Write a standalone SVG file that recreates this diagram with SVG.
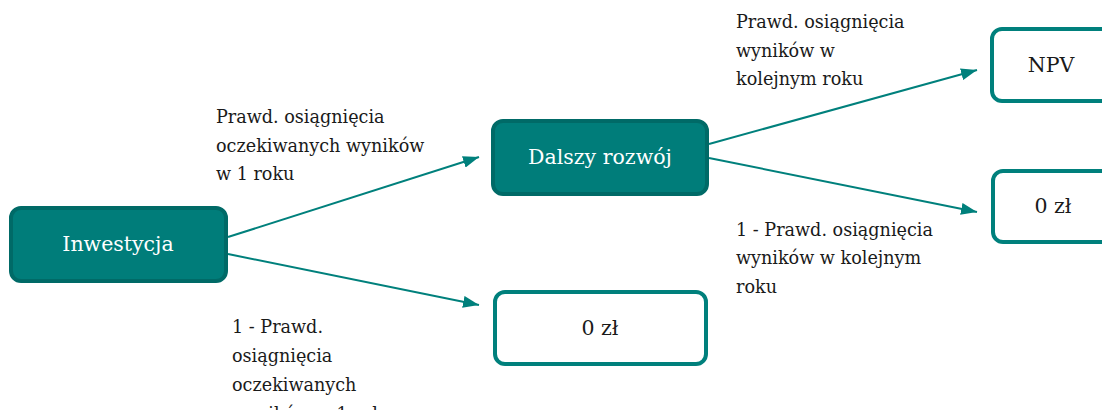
<svg xmlns="http://www.w3.org/2000/svg" width="1102" height="410" viewBox="0 0 1102 410">
<style>
.fill{fill:#007d7a;stroke:#006a67;stroke-width:4}
.out{fill:#fff;stroke:#00807c;stroke-width:4}
.t{font-family:"DejaVu Serif","Liberation Serif",serif;font-size:17.6px;fill:#1a1a1a}
.wt{fill:#fff;text-anchor:middle;font-size:20.5px}
.bt{text-anchor:middle;font-size:20.5px}
.c{stroke:#00807c;stroke-width:2;fill:none;marker-end:url(#a)}
</style>
<defs>
<marker id="a" viewBox="0 0 16 12" refX="16" refY="6" markerWidth="16" markerHeight="12" markerUnits="userSpaceOnUse" orient="auto"><path d="M0,0L16,6L0,12z" fill="#00807c"/></marker>
</defs>
<rect width="1102" height="410" fill="#fff"/>
<g id="connectors">
<path class="c" d="M228,237L479,157"/>
<path class="c" d="M228,254L479,305"/>
<path class="c" d="M709,144L977,70"/>
<path class="c" d="M709,158L977,212"/>
</g>
<g id="inwestycja"><rect class="fill" x="11" y="208" width="215" height="73" rx="10"/><text class="t wt" x="118" y="251">Inwestycja</text></g>
<g id="dalszy"><rect class="fill" x="493" y="121" width="214" height="73" rx="10"/><text class="t wt" x="600" y="164">Dalszy rozwój</text></g>
<g id="zero1"><rect class="out" x="495" y="292" width="211" height="72" rx="10"/><text class="t bt" x="600" y="335">0 zł</text></g>
<g id="npv"><rect class="out" x="992" y="29" width="130" height="72" rx="10"/><text class="t bt" x="1051" y="72">NPV</text></g>
<g id="zero2"><rect class="out" x="993" y="171" width="130" height="71" rx="10"/><text class="t bt" x="1053" y="213">0 zł</text></g>
<g id="labels">
<text class="t" x="216" y="123">Prawd. osiągnięcia</text>
<text class="t" x="216" y="152">oczekiwanych wyników</text>
<text class="t" x="216" y="180">w 1 roku</text>
<text class="t" x="232" y="333">1 - Prawd.</text>
<text class="t" x="232" y="362">osiągnięcia</text>
<text class="t" x="232" y="391">oczekiwanych</text>
<text class="t" x="232" y="420">wyników w 1 roku</text>
<text class="t" x="736" y="28">Prawd. osiągnięcia</text>
<text class="t" x="736" y="57">wyników w</text>
<text class="t" x="736" y="85">kolejnym roku</text>
<text class="t" x="736" y="236">1 - Prawd. osiągnięcia</text>
<text class="t" x="736" y="264">wyników w kolejnym</text>
<text class="t" x="736" y="293">roku</text>
</g>
</svg>
